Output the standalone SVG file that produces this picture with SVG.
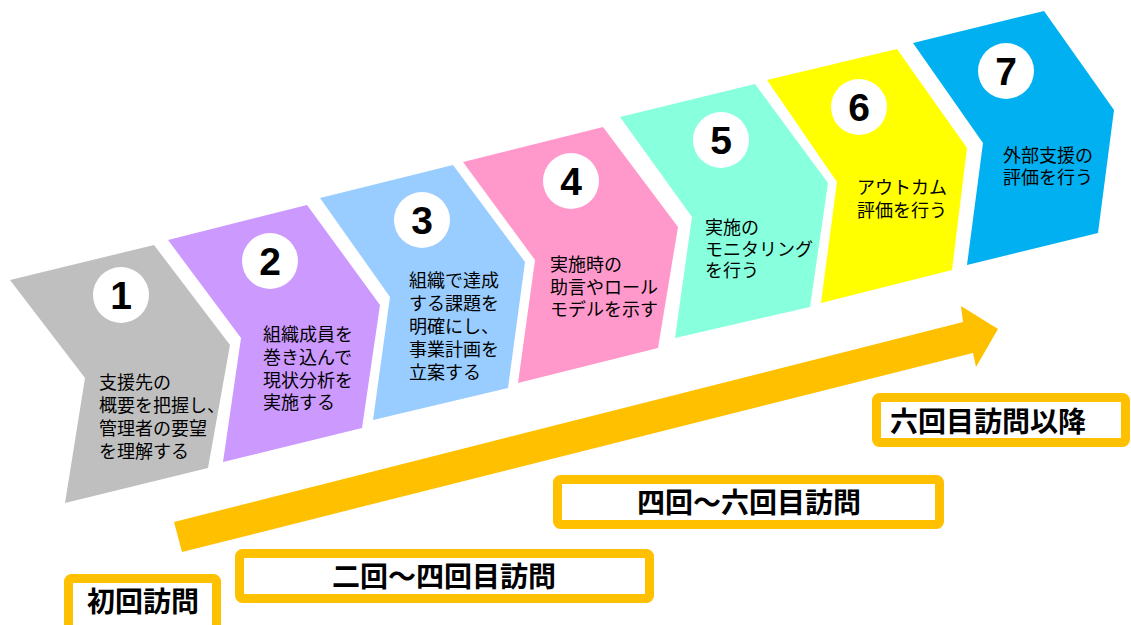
<svg xmlns="http://www.w3.org/2000/svg" width="1131" height="625" viewBox="0 0 1131 625">
<style>
.num{font-family:"Liberation Sans",Arial,sans-serif;font-weight:bold;font-size:39px;fill:#000;text-anchor:middle}
.lbl{font-family:"Noto Sans CJK JP","Noto Sans",sans-serif;font-size:18px;fill:#000}
.box{fill:#fff;stroke:#FFC000;stroke-width:9}
.btxt{font-family:"Noto Sans CJK JP","Noto Sans",sans-serif;font-size:28px;font-weight:bold;fill:#000;text-anchor:middle}
.circ{fill:#fff}
</style>
<rect width="1131" height="625" fill="#fff"/>
<g id="connectors">
<polygon points="174,522 963,322 961,306 998,329 976,367 973,353 182,552" fill="#FFC000"/>
</g>
<g id="step1">
<polygon points="10,280 154,245 230,345 208,468 65,503 85,378" fill="#BFBFBF"/>
<circle class="circ" cx="121" cy="295" r="28"/>
<text class="num" x="121" y="309">1</text>
<text class="lbl" x="99"><tspan x="99" y="389">支援先の</tspan><tspan x="99" y="412">概要を把握し、</tspan><tspan x="99" y="435">管理者の要望</tspan><tspan x="99" y="458">を理解する</tspan></text>
</g>
<g id="step2">
<polygon points="168,240 307,205 380,305 362,428 223,462 241,338" fill="#CC99FF"/>
<circle class="circ" cx="270" cy="261" r="28"/>
<text class="num" x="270" y="275">2</text>
<text class="lbl"><tspan x="263" y="341">組織成員を</tspan><tspan x="263" y="364">巻き込んで</tspan><tspan x="263" y="387">現状分析を</tspan><tspan x="263" y="409">実施する</tspan></text>
</g>
<g id="step3">
<polygon points="320,198 453,165 525,262 508,388 373,420 390,297" fill="#99CCFF"/>
<circle class="circ" cx="422" cy="220" r="28"/>
<text class="num" x="422" y="234">3</text>
<text class="lbl"><tspan x="409" y="287">組織で達成</tspan><tspan x="409" y="310">する課題を</tspan><tspan x="409" y="333">明確にし、</tspan><tspan x="409" y="356">事業計画を</tspan><tspan x="409" y="379">立案する</tspan></text>
</g>
<g id="step4">
<polygon points="463,162 603,127 678,227 658,348 518,383 535,260" fill="#FF99CC"/>
<circle class="circ" cx="571" cy="181" r="28"/>
<text class="num" x="571" y="195">4</text>
<text class="lbl"><tspan x="550" y="271">実施時の</tspan><tspan x="550" y="294">助言やロール</tspan><tspan x="550" y="316">モデルを示す</tspan></text>
</g>
<g id="step5">
<polygon points="620,117 755,84 828,183 810,307 675,338 692,217" fill="#88FFDD"/>
<circle class="circ" cx="721" cy="140" r="28"/>
<text class="num" x="721" y="154">5</text>
<text class="lbl"><tspan x="705" y="234">実施の</tspan><tspan x="705" y="256">モニタリング</tspan><tspan x="705" y="277">を行う</tspan></text>
</g>
<g id="step6">
<polygon points="767,80 897,49 967,148 952,270 821,303 837,182" fill="#FFFF00"/>
<circle class="circ" cx="859" cy="107" r="28"/>
<text class="num" x="859" y="121">6</text>
<text class="lbl"><tspan x="857" y="194">アウトカム</tspan><tspan x="857" y="217">評価を行う</tspan></text>
</g>
<g id="step7">
<polygon points="913,43 1044,11 1114,110 1098,233 967,265 983,143" fill="#00B0F0"/>
<circle class="circ" cx="1006" cy="71" r="28"/>
<text class="num" x="1006" y="85">7</text>
<text class="lbl"><tspan x="1003" y="162">外部支援の</tspan><tspan x="1003" y="184">評価を行う</tspan></text>
</g>
<g id="visit1">
<rect class="box" x="68.5" y="578.5" width="148" height="60" rx="3"/>
<text class="btxt" x="143" y="612">初回訪問</text>
</g>
<g id="visit2">
<rect class="box" x="239.5" y="553.5" width="410" height="45" rx="3"/>
<text class="btxt" x="444" y="587">二回～四回目訪問</text>
</g>
<g id="visit3">
<rect class="box" x="557.5" y="479.5" width="382" height="45" rx="3"/>
<text class="btxt" x="749" y="513">四回～六回目訪問</text>
</g>
<g id="visit4">
<rect class="box" x="876.5" y="397.5" width="249" height="45" rx="3"/>
<text class="btxt" x="988" y="432">六回目訪問以降</text>
</g>
</svg>
